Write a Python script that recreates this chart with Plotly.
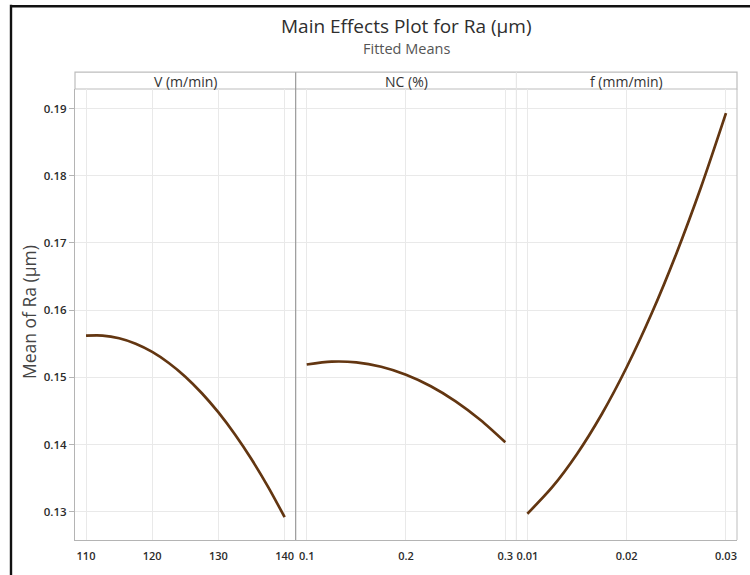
import plotly.graph_objects as go
from plotly.subplots import make_subplots

# ---- data ----
panel_titles = ["V (m/min)", "NC (%)", "f (mm/min)"]

v_levels = [110, 112.5, 115, 117.5, 120, 122.5, 125, 127.5, 130, 132.5, 135, 137.5, 140]
v_means = [0.15620, 0.15621, 0.15581, 0.15500, 0.15378, 0.15214, 0.15010,
           0.14764, 0.14478, 0.14150, 0.13781, 0.13371, 0.12920]

nc_levels = [0.10, 0.125, 0.15, 0.175, 0.20, 0.225, 0.25, 0.275, 0.30]
nc_means = [0.15191, 0.15233, 0.15222, 0.15157, 0.15039, 0.14868, 0.14643, 0.14365, 0.14034]

f_levels = [0.010, 0.0125, 0.015, 0.0175, 0.020, 0.0225, 0.025, 0.0275, 0.030]
f_means = [0.12970, 0.13365, 0.13860, 0.14455, 0.15150, 0.15945, 0.16840, 0.17835, 0.18930]

v_ticks = [110, 120, 130, 140]
v_ticktext = ["110", "120", "130", "140"]
nc_ticks = [0.1, 0.2, 0.3]
nc_ticktext = ["0.1", "0.2", "0.3"]
f_ticks = [0.01, 0.02, 0.03]
f_ticktext = ["0.01", "0.02", "0.03"]

y_ticks = [0.13, 0.14, 0.15, 0.16, 0.17, 0.18, 0.19]
y_ticktext = ["0.13", "0.14", "0.15", "0.16", "0.17", "0.18", "0.19"]

# ---- figure ----
FONT = "Open Sans"
LINE_COLOR = "#633611"
GRID = "#e9e9e9"
AXIS = "#b4b4b4"
YTICKFONT = dict(family=FONT, size=11.5, color="#2b2b2b", weight=600)
XTICKFONT = dict(family=FONT, size=11, color="#2b2b2b", weight=600)

W, H = 750, 575
L, R, T, B = 75, 13, 89, 31
pw, ph = W - L - R, H - T - B

def px_x(p):
    return (p - L) / pw

def px_y(p):
    return (H - B - p) / ph

fig = make_subplots(rows=1, cols=3, shared_yaxes=True, horizontal_spacing=0)

series = [(v_levels, v_means), (nc_levels, nc_means), (f_levels, f_means)]
for i, (xs, ys) in enumerate(series, start=1):
    fig.add_trace(
        go.Scatter(x=xs, y=ys, mode="lines",
                   line=dict(color=LINE_COLOR, width=2.7, shape="spline", smoothing=0.8),
                   showlegend=False, hoverinfo="x+y"),
        row=1, col=i)

def padded(lo, hi, frac=0.0555):
    d = hi - lo
    return [lo - frac * d, hi + frac * d]

xcfg = [
    (padded(110, 140), v_ticks, v_ticktext),
    (padded(0.1, 0.3), nc_ticks, nc_ticktext),
    (padded(0.01, 0.03), f_ticks, f_ticktext),
]
for i, (rng, tv, tt) in enumerate(xcfg, start=1):
    fig.update_xaxes(range=rng, tickvals=tv, ticktext=tt, showgrid=True, gridcolor=GRID,
                     gridwidth=1, showline=True, linecolor=AXIS, linewidth=1, mirror=False,
                     ticks="outside", ticklen=6, tickcolor="rgba(0,0,0,0)",
                     tickfont=XTICKFONT, zeroline=False, fixedrange=True, row=1, col=i)

fig.update_yaxes(range=[0.1258, 0.1929], tickvals=y_ticks, ticktext=y_ticktext,
                 showgrid=True, gridcolor=GRID, zeroline=False, fixedrange=True)
fig.update_yaxes(showline=True, linecolor=AXIS, linewidth=1, ticks="outside", ticklen=5,
                 tickcolor=AXIS, tickfont=YTICKFONT, row=1, col=1)

shapes = []
y_top = px_y(72)
# strip header box
shapes.append(dict(type="rect", xref="paper", yref="paper", x0=0, x1=1, y0=1, y1=y_top,
                   line=dict(color="#bdbdbd", width=1.2), fillcolor="white", layer="below"))
# right border of the plot area
shapes.append(dict(type="line", xref="paper", yref="paper", x0=1, x1=1, y0=0, y1=1,
                   line=dict(color="#bdbdbd", width=1)))
# divider panel 1 / 2 (dark)
shapes.append(dict(type="line", xref="paper", yref="paper", x0=1/3, x1=1/3, y0=0, y1=y_top,
                   line=dict(color="#9a9a9a", width=1.2)))
# divider panel 2 / 3 (faint)
shapes.append(dict(type="line", xref="paper", yref="paper", x0=2/3, x1=2/3, y0=0, y1=y_top,
                   line=dict(color="#e2e2e2", width=1)))
# outer black frame (left and top)
shapes.append(dict(type="line", xref="paper", yref="paper", x0=px_x(11), x1=px_x(11),
                   y0=px_y(580), y1=px_y(4), line=dict(color="#111111", width=2.4)))
shapes.append(dict(type="line", xref="paper", yref="paper", x0=px_x(10), x1=px_x(760),
                   y0=px_y(5.5), y1=px_y(5.5), line=dict(color="#111111", width=2.4)))

annotations = []
for i, t in enumerate(panel_titles):
    annotations.append(dict(text=t, xref="paper", yref="paper", x=(i + 0.5) / 3, y=px_y(81),
                            showarrow=False, xanchor="center", yanchor="middle",
                            font=dict(family=FONT, size=14, color="#333333")))
annotations.append(dict(text="Main Effects Plot for Ra (µm)", xref="paper", yref="paper",
                        x=0.5, y=px_y(25.5), showarrow=False, xanchor="center", yanchor="middle",
                        font=dict(family=FONT, size=19, color="#2e2e2e")))
annotations.append(dict(text="Fitted Means", xref="paper", yref="paper",
                        x=0.5, y=px_y(48.5), showarrow=False, xanchor="center", yanchor="middle",
                        font=dict(family=FONT, size=14.5, color="#555555")))
annotations.append(dict(text="Mean of Ra (µm)", xref="paper", yref="paper",
                        x=px_x(29), y=px_y(314), showarrow=False, textangle=-90,
                        xanchor="center", yanchor="middle",
                        font=dict(family=FONT, size=17.5, color="#444444")))

fig.update_layout(width=W, height=H, margin=dict(l=L, r=R, t=T, b=B, pad=0),
                  paper_bgcolor="white", plot_bgcolor="white",
                  shapes=shapes, annotations=annotations, showlegend=False)

fig.write_html("out.html", config={"displayModeBar": False},
               post_script="document.body.style.margin='0';document.body.style.overflow='hidden';")
